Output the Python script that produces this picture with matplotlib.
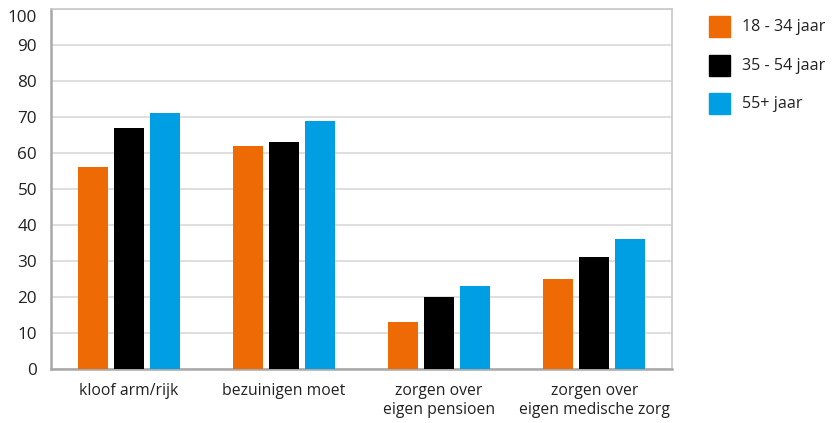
import matplotlib
matplotlib.use("Agg")
import matplotlib.pyplot as plt
import matplotlib.transforms as mtransforms
import numpy as np
from matplotlib.patches import Rectangle

categories = ["kloof arm/rijk", "bezuinigen moet", "zorgen over\neigen pensioen", "zorgen over\neigen medische zorg"]
series_labels = ["18 - 34 jaar", "35 - 54 jaar", "55+ jaar"]
values_18_34 = [56, 62, 13, 25]
values_35_54 = [67, 63, 20, 31]
values_55 = [71, 69, 23, 36]
yticks = [0, 10, 20, 30, 40, 50, 60, 70, 80, 90, 100]

colors = ["#EE6A04", "#000000", "#009FE3"]
plt.rcParams['font.family'] = ['Open Sans', 'DejaVu Sans']

fig = plt.figure(figsize=(8.37, 4.23), dpi=100)
ax = fig.add_axes([51/837, 1-369/423, (672-51)/837, (369-9)/423])

x = np.arange(len(categories))
w = 0.193
off = 0.232
for i, (vals, c) in enumerate(zip([values_18_34, values_35_54, values_55], colors)):
    ax.bar(x + (i-1)*off, vals, width=w, color=c, zorder=3)

ax.set_xlim(-0.5, 3.5)
ax.set_ylim(0, 100)
ax.set_yticks(yticks)
ax.set_xticks(x)
ax.set_xticklabels(categories, fontsize=11.3, color="#222222", linespacing=1.25)
ax.tick_params(axis='y', length=0, labelsize=12.3, colors="#222222", pad=10)
ax.tick_params(axis='x', length=0, colors="#222222", pad=10)
ax.grid(axis='y', color="#dcdcdc", linewidth=1.3, zorder=0)
for s in ['left', 'bottom']:
    ax.spines[s].set_color("#a8a8a8")
    ax.spines[s].set_linewidth(1.8)
for s in ['top', 'right']:
    ax.spines[s].set_color("#c8c8c8")
    ax.spines[s].set_linewidth(1.2)

# the top tick label sits a bit lower in the reference
lbl = ax.get_yticklabels()[-1]
lbl.set_transform(lbl.get_transform() + mtransforms.ScaledTranslation(0, -7/100, fig.dpi_scale_trans))

ys = [27, 66, 104]
for lab, c, yc in zip(series_labels, colors, ys):
    fig.add_artist(Rectangle((709/837, 1-(yc+10.5)/423), 21/837, 21/423,
                             transform=fig.transFigure, color=c))
    fig.text(742/837, 1-yc/423, lab, fontsize=11.6, va='center', ha='left', color="#222222")

fig.savefig("out.png", dpi=100)
